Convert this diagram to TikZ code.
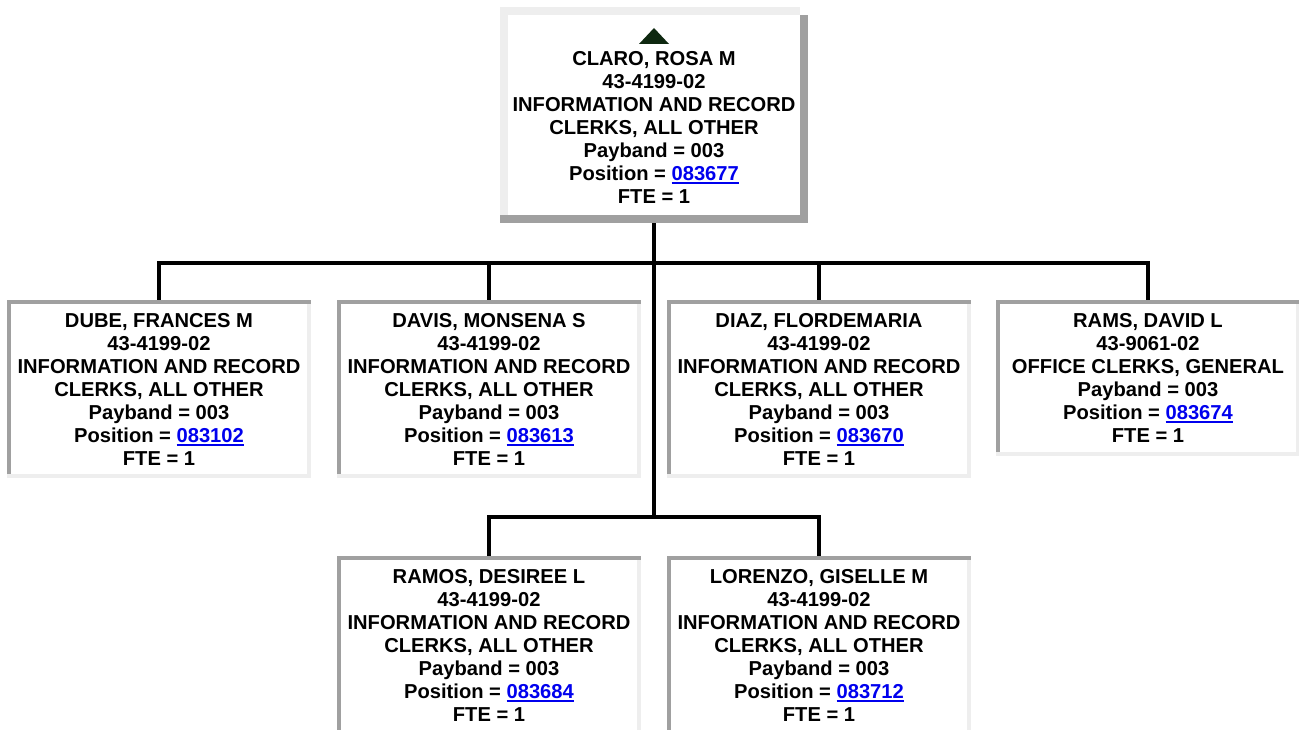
\documentclass[tikz,border=0pt]{standalone}
\usepackage{fontspec}
\setmainfont{Liberation Sans}
\definecolor{lightedge}{RGB}{238,238,238}
\definecolor{darkedge}{RGB}{160,160,160}
\definecolor{linkblue}{RGB}{0,0,238}
\definecolor{markergreen}{RGB}{14,40,16}
% underlined position number
\newcommand{\poslink}[1]{{\color{linkblue}\setbox0\hbox{#1}\rlap{\rule[-3.5pt]{\wd0}{2pt}}\box0}}

\begin{document}
\begin{tikzpicture}[
  x=1pt, y=-1pt,
  every node/.style={fill=white, inner sep=0pt, outer sep=0pt, align=center,
    font=\fontsize{20.15}{23}\selectfont\bfseries},
  card/.style={minimum width=304pt, minimum height=178pt},
  wire/.style={line width=4pt}
]
\useasboundingbox (0,0) rectangle (1299,730);

% boss
\node[minimum width=308pt, minimum height=216pt] (claro) at (654,115) {\strut\\CLARO, ROSA M\\43-4199-02\\INFORMATION AND RECORD\\CLERKS, ALL OTHER\\Payband = 003\\Position = \poslink{083677}\\FTE = 1};
\fill[markergreen] ([shift={(-15,37)}]claro.north) -- ++(30,0) -- ++(-15,-16) -- cycle;

% first row
\node[card] (dube) at (159,389) {DUBE, FRANCES M\\43-4199-02\\INFORMATION AND RECORD\\CLERKS, ALL OTHER\\Payband = 003\\Position = \poslink{083102}\\FTE = 1};
\node[card] (davis) at (489,389) {DAVIS, MONSENA S\\43-4199-02\\INFORMATION AND RECORD\\CLERKS, ALL OTHER\\Payband = 003\\Position = \poslink{083613}\\FTE = 1};
\node[card] (diaz) at (819,389) {DIAZ, FLORDEMARIA\\43-4199-02\\INFORMATION AND RECORD\\CLERKS, ALL OTHER\\Payband = 003\\Position = \poslink{083670}\\FTE = 1};
\node[card, minimum height=156pt] (rams) at (1148,378) {RAMS, DAVID L\\43-9061-02\\OFFICE CLERKS, GENERAL\\Payband = 003\\Position = \poslink{083674}\\FTE = 1};

% second row
\node[card] (ramos) at (489,645) {RAMOS, DESIREE L\\43-4199-02\\INFORMATION AND RECORD\\CLERKS, ALL OTHER\\Payband = 003\\Position = \poslink{083684}\\FTE = 1};
\node[card] (lorenzo) at (819,645) {LORENZO, GISELLE M\\43-4199-02\\INFORMATION AND RECORD\\CLERKS, ALL OTHER\\Payband = 003\\Position = \poslink{083712}\\FTE = 1};

% connectors
\coordinate (upper) at (654,263);
\coordinate (lower) at (654,517);
\draw[wire] (claro.south) -- (lower);
\foreach \n in {dube,davis,diaz,rams}
  \draw[wire] (\n.north) |- (upper);
\foreach \n in {ramos,lorenzo}
  \draw[wire] (\n.north) |- (lower);

% raised border of the boss box
\fill[lightedge] (claro.north west) rectangle ([shift={(-8,8)}]claro.north east);
\fill[lightedge] ([shift={(0,8)}]claro.north west) rectangle ([shift={(8,-8)}]claro.south west);
\fill[darkedge] ([shift={(-8,8)}]claro.north east) rectangle ([shift={(0,-8)}]claro.south east);
\fill[darkedge] ([shift={(0,-8)}]claro.south west) rectangle (claro.south east);

% sunken borders of the other boxes
\foreach \n in {dube,davis,diaz,rams,ramos,lorenzo} {
  \fill[darkedge] (\n.north west) rectangle ([shift={(0,4)}]\n.north east);
  \fill[darkedge] ([shift={(0,4)}]\n.north west) rectangle ([shift={(4,-4)}]\n.south west);
  \fill[lightedge] ([shift={(-4,4)}]\n.north east) rectangle ([shift={(0,-4)}]\n.south east);
  \fill[lightedge] ([shift={(0,-4)}]\n.south west) rectangle (\n.south east);
}
\end{tikzpicture}
\end{document}
